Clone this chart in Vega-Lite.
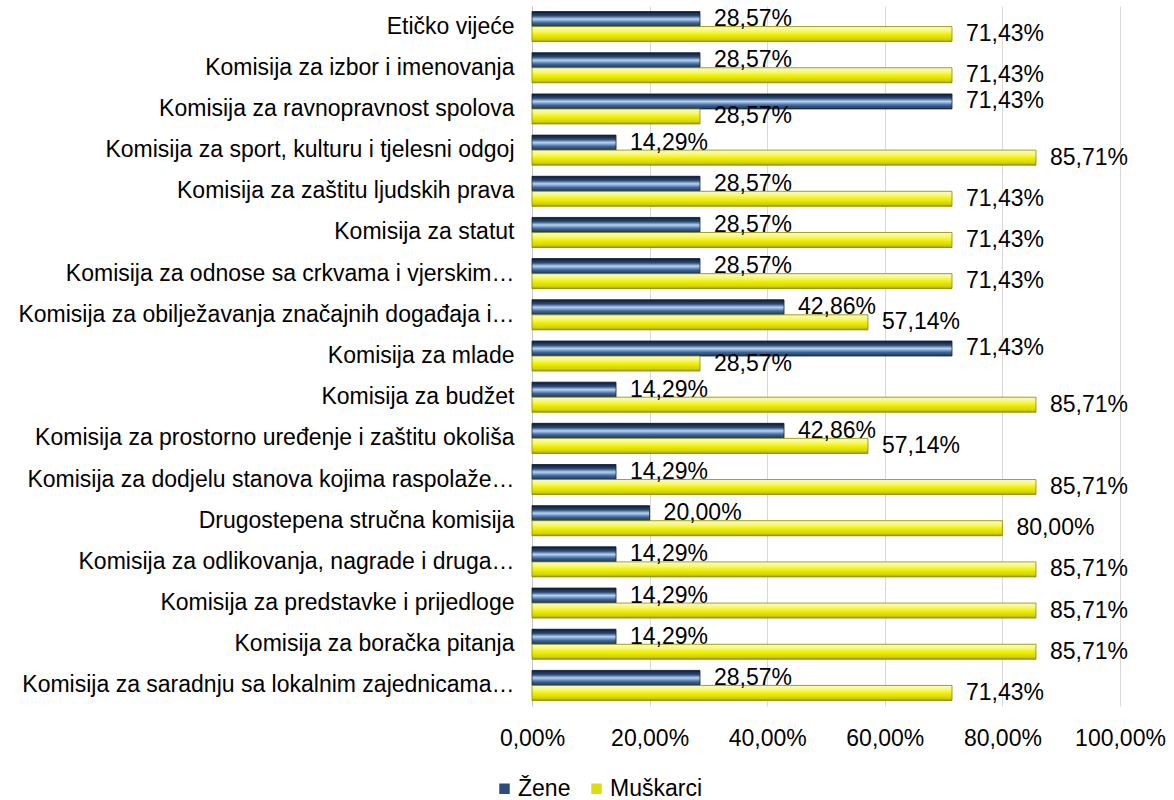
{
  "$schema": "https://vega.github.io/schema/vega-lite/v6.json",
  "width": 588,
  "height": 700,
  "autosize": {"type": "none"},
  "padding": {"left": 532, "top": 6, "right": 54, "bottom": 94},
  "background": "white",
  "config": {
    "font": "Liberation Sans",
    "view": {"stroke": null},
    "locale": {"number": {"decimal": ",", "thousands": ".", "grouping": [3], "currency": ["", " KM"]}}
  },
  "data": {
    "values": [
      {"komisija": "Etičko vijeće", "spol": "Žene", "udio": 0.2857},
      {"komisija": "Etičko vijeće", "spol": "Muškarci", "udio": 0.7143},
      {"komisija": "Komisija za izbor i imenovanja", "spol": "Žene", "udio": 0.2857},
      {"komisija": "Komisija za izbor i imenovanja", "spol": "Muškarci", "udio": 0.7143},
      {"komisija": "Komisija za ravnopravnost spolova", "spol": "Žene", "udio": 0.7143},
      {"komisija": "Komisija za ravnopravnost spolova", "spol": "Muškarci", "udio": 0.2857},
      {"komisija": "Komisija za sport, kulturu i tjelesni odgoj", "spol": "Žene", "udio": 0.1429},
      {"komisija": "Komisija za sport, kulturu i tjelesni odgoj", "spol": "Muškarci", "udio": 0.8571},
      {"komisija": "Komisija za zaštitu ljudskih prava", "spol": "Žene", "udio": 0.2857},
      {"komisija": "Komisija za zaštitu ljudskih prava", "spol": "Muškarci", "udio": 0.7143},
      {"komisija": "Komisija za statut", "spol": "Žene", "udio": 0.2857},
      {"komisija": "Komisija za statut", "spol": "Muškarci", "udio": 0.7143},
      {"komisija": "Komisija za odnose sa crkvama i vjerskim…", "spol": "Žene", "udio": 0.2857},
      {"komisija": "Komisija za odnose sa crkvama i vjerskim…", "spol": "Muškarci", "udio": 0.7143},
      {"komisija": "Komisija za obilježavanja značajnih događaja i…", "spol": "Žene", "udio": 0.4286},
      {"komisija": "Komisija za obilježavanja značajnih događaja i…", "spol": "Muškarci", "udio": 0.5714},
      {"komisija": "Komisija za mlade", "spol": "Žene", "udio": 0.7143},
      {"komisija": "Komisija za mlade", "spol": "Muškarci", "udio": 0.2857},
      {"komisija": "Komisija za budžet", "spol": "Žene", "udio": 0.1429},
      {"komisija": "Komisija za budžet", "spol": "Muškarci", "udio": 0.8571},
      {"komisija": "Komisija za prostorno uređenje i zaštitu okoliša", "spol": "Žene", "udio": 0.4286},
      {"komisija": "Komisija za prostorno uređenje i zaštitu okoliša", "spol": "Muškarci", "udio": 0.5714},
      {"komisija": "Komisija za dodjelu stanova kojima raspolaže…", "spol": "Žene", "udio": 0.1429},
      {"komisija": "Komisija za dodjelu stanova kojima raspolaže…", "spol": "Muškarci", "udio": 0.8571},
      {"komisija": "Drugostepena stručna komisija", "spol": "Žene", "udio": 0.2},
      {"komisija": "Drugostepena stručna komisija", "spol": "Muškarci", "udio": 0.8},
      {"komisija": "Komisija za odlikovanja, nagrade i druga…", "spol": "Žene", "udio": 0.1429},
      {"komisija": "Komisija za odlikovanja, nagrade i druga…", "spol": "Muškarci", "udio": 0.8571},
      {"komisija": "Komisija za predstavke i prijedloge", "spol": "Žene", "udio": 0.1429},
      {"komisija": "Komisija za predstavke i prijedloge", "spol": "Muškarci", "udio": 0.8571},
      {"komisija": "Komisija za boračka pitanja", "spol": "Žene", "udio": 0.1429},
      {"komisija": "Komisija za boračka pitanja", "spol": "Muškarci", "udio": 0.8571},
      {"komisija": "Komisija za saradnju sa lokalnim zajednicama…", "spol": "Žene", "udio": 0.2857},
      {"komisija": "Komisija za saradnju sa lokalnim zajednicama…", "spol": "Muškarci", "udio": 0.7143}
    ]
  },
  "encoding": {
    "y": {
      "field": "komisija",
      "type": "nominal",
      "sort": null,
      "scale": {"paddingInner": 0.27, "paddingOuter": 0.135},
      "axis": {
        "title": null,
        "labelFontSize": 23,
        "labelPadding": 18,
        "labelLimit": 600,
        "labelColor": "#000000",
        "ticks": false,
        "domain": true,
        "domainColor": "#c8c8c8",
        "grid": false
      }
    },
    "yOffset": {
      "field": "spol",
      "type": "nominal",
      "scale": {"domain": ["Žene", "Muškarci"], "paddingInner": 0}
    },
    "x": {
      "field": "udio",
      "type": "quantitative",
      "scale": {"domain": [0, 1], "nice": false},
      "axis": {
        "title": null,
        "format": ".2%",
        "values": [0, 0.2, 0.4, 0.6, 0.8, 1],
        "labelOverlap": false,
        "labelBound": false,
        "labelFlush": false,
        "grid": true,
        "gridColor": "#d9d9d9",
        "domain": false,
        "ticks": false,
        "labelFontSize": 23,
        "labelPadding": 21,
        "labelColor": "#000000"
      }
    }
  },
  "layer": [
    {
      "mark": {"type": "bar"},
      "encoding": {
        "color": {
          "field": "spol",
          "type": "nominal",
          "scale": {"domain": ["Žene", "Muškarci"], "range": ["#2c4c7a", "#dcdc10"]},
          "legend": {
            "title": null,
            "orient": "none",
            "legendX": -39,
            "legendY": 771,
            "direction": "horizontal",
            "labelFontSize": 23,
            "labelColor": "#000000",
            "symbolType": "square",
            "symbolSize": 110,
            "symbolStrokeWidth": 0,
            "columnPadding": 14,
            "labelOffset": 2
          }
        }
      }
    },
    {
      "transform": [{"filter": "datum.spol === 'Žene'"}],
      "mark": {
        "type": "bar",
        "stroke": "#16263d",
        "strokeWidth": 0.8,
        "fill": {
          "gradient": "linear",
          "x1": 0, "y1": 0, "x2": 0, "y2": 1,
          "stops": [
            {"offset": 0, "color": "#0f1a2c"},
            {"offset": 0.28, "color": "#2a4a78"},
            {"offset": 0.5, "color": "#b9d3f0"},
            {"offset": 0.75, "color": "#3d679e"},
            {"offset": 1, "color": "#1d3352"}
          ]
        }
      }
    },
    {
      "transform": [{"filter": "datum.spol === 'Muškarci'"}],
      "mark": {
        "type": "bar",
        "stroke": "#8c8c00",
        "strokeWidth": 0.8,
        "fill": {
          "gradient": "linear",
          "x1": 0, "y1": 0, "x2": 0, "y2": 1,
          "stops": [
            {"offset": 0, "color": "#fafad2"},
            {"offset": 0.3, "color": "#f7f770"},
            {"offset": 0.55, "color": "#eeee00"},
            {"offset": 0.85, "color": "#d2d200"},
            {"offset": 1, "color": "#9a9a00"}
          ]
        }
      }
    },
    {
      "mark": {"type": "text", "align": "left", "baseline": "middle", "dx": 14, "fontSize": 23, "color": "#000000"},
      "encoding": {
        "text": {"field": "udio", "type": "quantitative", "format": ".2%"}
      }
    }
  ]
}
